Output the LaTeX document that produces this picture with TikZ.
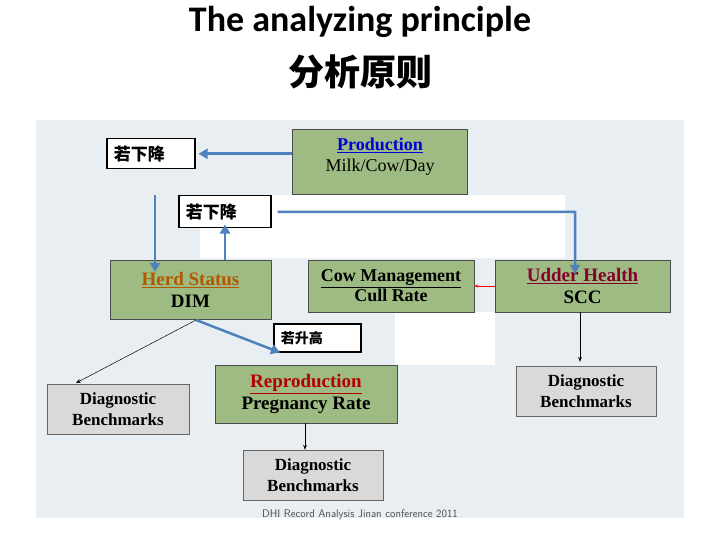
\documentclass[tikz,border=0pt]{standalone}
\usepackage{fontspec}
\setmainfont{Liberation Serif}
\newfontfamily\titlefont{Carlito}
\newfontfamily\cjk{Noto Sans CJK SC}
\usetikzlibrary{arrows.meta}
\definecolor{boxg}{HTML}{9DBB82}
\definecolor{bgc}{HTML}{E9EEF3}
\definecolor{arrb}{HTML}{4F81BD}
\definecolor{diag}{HTML}{D9D9D9}
\begin{document}
\begin{tikzpicture}[x=1pt,y=-1pt,
  gbox/.style={draw=black!70,fill=boxg,minimum width=#1,align=center,inner sep=0pt},
  lbox/.style={draw=black,line width=1.5pt,fill=white,font=\cjk\bfseries\fontsize{17}{18}\selectfont,anchor=north west,inner ysep=4pt,inner xsep=7pt,text width=#1,minimum width=#1},
  dbox/.style={draw=black!60,fill=diag,align=center,font=\bfseries\fontsize{17}{21}\selectfont,inner sep=0pt},
  barr/.style={draw=arrb,line width=2.5pt,-{Triangle[length=9pt,width=10pt]}},
  tarr/.style={draw=black,line width=0.5pt,-{Stealth[length=5pt]}}]
\useasboundingbox (0,0) rectangle (720,540);
\fill[white] (0,0) rectangle (720,540);
\fill[bgc] (36,120) rectangle (684,518);
\fill[white] (200,195) rectangle (565,258);
\fill[white] (395,312) rectangle (495,365);
\node[font=\titlefont\bfseries\fontsize{36}{40}\selectfont] (t1) at (360,22) {The analyzing principle};
\node[font=\cjk\bfseries\fontsize{36}{40}\selectfont] (t2) at (360,72) {分析原则};
\node[gbox=175pt,minimum height=65pt] (prod) at (379.5,161.5) {};
\node[align=center,font=\fontsize{18}{21}\selectfont] (prodt) at (380,157) {\textcolor{blue!85!black}{\bfseries\underline{Production}}\\ Milk/Cow/Day};
\node[gbox=161pt,minimum height=59pt,font=\fontsize{19}{22}\selectfont\bfseries] (herd) at (190.5,289.5) {\textcolor{orange!70!black}{\underline{Herd Status}}\\ DIM};
\node[gbox=166pt,minimum height=52pt,font=\fontsize{18}{20}\selectfont\bfseries] (cow) at (391,286) {\underline{Cow Management}\\ Cull Rate};
\node[gbox=175pt,minimum height=52pt,font=\fontsize{19}{21}\selectfont\bfseries] (udder) at (582.5,286) {\textcolor{purple!70!black}{\underline{Udder Health}}\\ SCC};
\node[gbox=182pt,minimum height=58pt,font=\fontsize{19}{22}\selectfont\bfseries] (repro) at (306,394) {\textcolor{red!70!black}{\underline{Reproduction}}\\ Pregnancy Rate};
\node[lbox=74pt,minimum height=30pt] (l1) at (106,138) {若下降};
\node[lbox=78pt,minimum height=32pt] (l2) at (178,195) {若下降};
\node[lbox=73pt,minimum height=28pt,font=\cjk\bfseries\fontsize{14}{15}\selectfont] (l3) at (273,323) {若升高};
\node[dbox,minimum width=142pt,minimum height=50pt] (d1) at (118,409) {Diagnostic\\Benchmarks};
\node[dbox,minimum width=140pt,minimum height=50pt] (d2) at (586,391) {Diagnostic\\Benchmarks};
\node[dbox,minimum width=140pt,minimum height=50pt] (d3) at (313,475) {Diagnostic\\Benchmarks};
\coordinate (c1) at (575,212);
\draw[barr] (prod.west|-l1.east) -- ([xshift=3pt]l1.east);
\draw[barr] ([yshift=-26pt]l1.south-|155,0) -- ([yshift=-12pt]herd.north-|155,0);
\draw[barr] (herd.north-|225,0) -- ([yshift=4pt]l2.south-|225,0);
\draw[barr] ([xshift=6pt]l2.east) -- (c1) -- ([yshift=-14pt]udder.north-|c1);
\draw[red,line width=0.6pt,-{Stealth[length=4pt]}] (udder.west) -- (cow.east);
\draw[barr] (196,320) -- (l3.south-|280,0);
\draw[tarr] (196,320) -- (76,383);
\draw[tarr] (udder.south-|580,0) -- ([yshift=4pt]d2.north-|580,0);
\draw[tarr] (repro.south-|305,0) -- (d3.north-|305,0);
\node[font=\sffamily\fontsize{11}{12}\selectfont,text=black!70] (foot) at (360,515) {DHI Record Analysis Jinan conference 2011};
\end{tikzpicture}
\end{document}
